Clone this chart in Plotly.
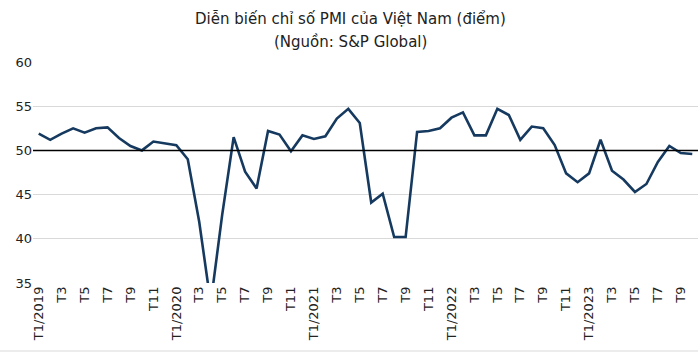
import plotly.graph_objects as go

months = [f"T{m}/{y}" for y in range(2019, 2024) for m in range(1, 13)][:58]
pmi = [51.9, 51.2, 51.9, 52.5, 52.0, 52.5, 52.6, 51.4, 50.5, 50.0, 51.0, 50.8,
       50.6, 49.0, 41.9, 32.7, 42.7, 51.5, 47.6, 45.7, 52.2, 51.8, 49.9, 51.7,
       51.3, 51.6, 53.6, 54.7, 53.1, 44.1, 45.1, 40.2, 40.2, 52.1, 52.2, 52.5,
       53.7, 54.3, 51.7, 51.7, 54.7, 54.0, 51.2, 52.7, 52.5, 50.6, 47.4, 46.4,
       47.4, 51.2, 47.7, 46.7, 45.3, 46.2, 48.7, 50.5, 49.7, 49.6]
tick_labels = ["T1/2019", "T3", "T5", "T7", "T9", "T11",
               "T1/2020", "T3", "T5", "T7", "T9", "T11",
               "T1/2021", "T3", "T5", "T7", "T9", "T11",
               "T1/2022", "T3", "T5", "T7", "T9", "T11",
               "T1/2023", "T3", "T5", "T7", "T9"]
y_ticks = [35, 40, 45, 50, 55, 60]
threshold = 50
title_lines = ["Diễn biến chỉ số PMI của Việt Nam (điểm)", "(Nguồn: S&P Global)"]

x_idx = list(range(len(pmi)))
tick_pos = x_idx[::2]

H, T, B = 353, 62, 70
plot_h = H - T - B

def py(px):
    # convert pixel y from top to paper coordinate
    return (H - B - px) / plot_h

fig = go.Figure()
fig.add_trace(go.Scatter(x=x_idx, y=pmi, mode="lines",
                         line=dict(color="#163a5f", width=2.6),
                         hoverinfo="skip", showlegend=False))
fig.add_shape(type="line", xref="paper", x0=0, x1=1, yref="y",
              y0=threshold, y1=threshold, line=dict(color="black", width=1.5))
fig.add_shape(type="line", xref="paper", x0=-0.05, x1=1.0, yref="paper",
              y0=py(351), y1=py(351), line=dict(color="#d9d9d9", width=1))

for i, (txt, ypx) in enumerate(zip(title_lines, [19, 42])):
    fig.add_annotation(text=txt, xref="paper", x=(350 - 33) / 665, xanchor="center",
                       yref="paper", y=py(ypx), yanchor="middle", showarrow=False,
                       font=dict(family="DejaVu Sans", size=15, color="#222"))

fig.update_layout(
    width=700, height=H,
    margin=dict(l=33, r=2, t=T, b=B),
    paper_bgcolor="white", plot_bgcolor="white",
    font=dict(family="DejaVu Sans", color="#333"),
)
fig.update_xaxes(range=[-0.5, len(pmi) - 0.5], tickmode="array",
                 tickvals=tick_pos, ticktext=tick_labels[:len(tick_pos)],
                 tickangle=-90, tickfont=dict(size=13, color="#222"),
                 showgrid=False, zeroline=False, showline=False, ticks="")
fig.update_yaxes(range=[35, 60], tickmode="array", tickvals=y_ticks,
                 tickfont=dict(size=13, color="#222"),
                 showgrid=True, gridcolor="#d9d9d9", gridwidth=1,
                 zeroline=False, showline=False, ticks="")

fig.write_html("out.html")
